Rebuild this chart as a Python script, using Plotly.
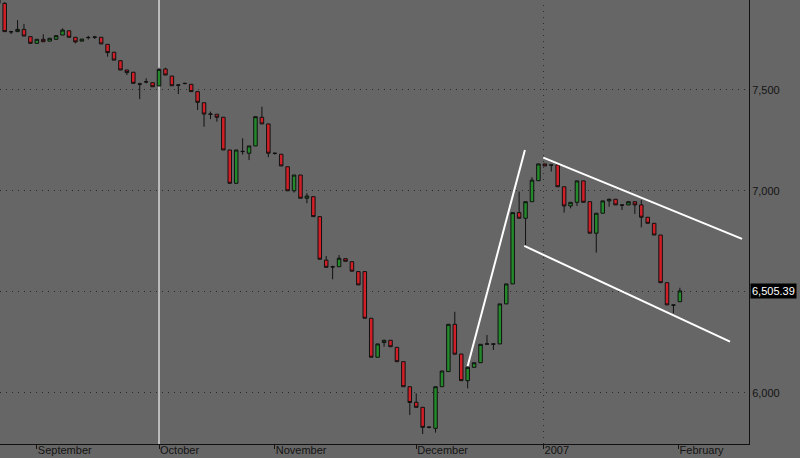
import plotly.graph_objects as go

# Trading-day index (one candle per session), Sep 2006 - Feb 2007
day_idx = list(range(-1, 106))

opens = [7990, 7929, 7789, 7789, 7800, 7764, 7731, 7751, 7742, 7751, 7772,
         7793, 7761, 7742, 7759, 7761, 7761, 7726, 7687, 7645, 7599,
         7588, 7530, 7541, 7536, 7520, 7604, 7569, 7525, 7533, 7528,
         7492, 7437, 7381, 7380, 7365, 7203, 7038, 7195, 7187, 7223,
         7365, 7332, 7187, 7182, 7120, 7001, 7079, 6964, 6972, 6873,
         6658, 6625, 6625, 6665, 6650, 6601, 6601, 6370, 6177, 6250,
         6261, 6226, 6155, 6031, 5954, 5929, 5830, 5825, 6031, 6106,
         6340, 6193, 6061, 6127, 6150, 6242, 6243, 6243, 6441, 6540,
         6893, 6865, 6947, 7051, 7134, 7129, 7129, 7021, 6926, 6944,
         7050, 6947, 6791, 6890, 6951, 6959, 6931, 6931, 6947, 6931,
         6870, 6840, 6782, 6546, 6436, 6452]
highs = [8000, 7935, 7793, 7846, 7827, 7764, 7751, 7776, 7756, 7769, 7805,
         7795, 7761, 7752, 7768, 7768, 7761, 7726, 7687, 7645, 7599,
         7588, 7536, 7558, 7536, 7610, 7610, 7569, 7528, 7536, 7528,
         7492, 7437, 7393, 7380, 7365, 7203, 7203, 7261, 7223, 7368,
         7417, 7332, 7190, 7182, 7120, 7079, 7079, 6989, 6972, 6873,
         6678, 6630, 6683, 6665, 6650, 6601, 6601, 6370, 6243, 6263,
         6261, 6226, 6155, 6031, 5998, 5929, 5833, 6031, 6109, 6340,
         6402, 6193, 6127, 6150, 6241, 6287, 6243, 6441, 6540, 6893,
         6997, 6947, 7068, 7134, 7134, 7130, 7129, 7021, 6944, 7050,
         7050, 6947, 6890, 6951, 6962, 6959, 6932, 6947, 6947, 6955,
         6870, 6840, 6782, 6546, 6437, 6521]
lows = [7929, 7789, 7777, 7789, 7767, 7731, 7731, 7739, 7742, 7748, 7772,
        7761, 7731, 7742, 7750, 7753, 7728, 7665, 7648, 7599, 7574,
        7533, 7455, 7533, 7516, 7520, 7574, 7521, 7480, 7528, 7492,
        7401, 7318, 7356, 7343, 7203, 7038, 7038, 7180, 7153, 7223,
        7332, 7167, 7180, 7124, 7001, 6992, 6964, 6939, 6873, 6662,
        6622, 6563, 6625, 6652, 6603, 6535, 6370, 6177, 6177, 6229,
        6229, 6155, 6031, 5891, 5929, 5797, 5825, 5804, 6031, 6106,
        6192, 6061, 6023, 6127, 6150, 6242, 6213, 6243, 6441, 6540,
        6865, 6729, 6947, 7051, 7124, 7096, 7021, 6893, 6914, 6926,
        6944, 6791, 6695, 6890, 6922, 6931, 6906, 6931, 6886, 6820,
        6840, 6782, 6546, 6436, 6395, 6452]
closes = [7929, 7789, 7788, 7800, 7767, 7731, 7751, 7739, 7756, 7769, 7797,
          7761, 7738, 7752, 7760, 7762, 7728, 7685, 7648, 7599, 7586,
          7533, 7529, 7540, 7516, 7602, 7574, 7521, 7524, 7532, 7492,
          7439, 7381, 7380, 7365, 7203, 7038, 7203, 7196, 7223, 7368,
          7332, 7187, 7186, 7124, 7001, 7079, 6964, 6975, 6873, 6662,
          6622, 6624, 6667, 6652, 6603, 6535, 6370, 6177, 6243, 6261,
          6229, 6155, 6031, 5953, 5929, 5830, 5831, 6031, 6109, 6340,
          6192, 6061, 6127, 6150, 6241, 6243, 6242, 6441, 6540, 6893,
          6865, 6947, 7054, 7134, 7124, 7128, 7021, 6926, 6944, 7050,
          6944, 6791, 6890, 6951, 6959, 6931, 6930, 6947, 6931, 6870,
          6840, 6782, 6546, 6436, 6435, 6505.39]

# Month boundaries on the time axis (trading-day index) and their labels
month_pos = [5, 24, 42, 64, 83.8, 104.8]
month_labels = ["September", "October", "November", "December", "2007", "February"]

# Price axis (6,500 sits under the last-price marker)
price_ticks = [6000, 6500, 7000, 7500]
price_labels = ["6,000", "", "7,000", "7,500"]
last_price = 6505.39

# Hand-drawn trendlines (index, price)
steep_x = [72, 80.9]
steep_y = [6134, 7203]
upper_x = [83.76, 114.67]
upper_y = [7165, 6763]
lower_x = [80.8, 112.8]
lower_y = [6728, 6254]

BG = "#666666"
FONT = "Liberation Sans, Arial, sans-serif"

fig = go.Figure()
fig.add_trace(go.Candlestick(
    x=day_idx, open=opens, high=highs, low=lows, close=closes,
    increasing=dict(fillcolor="#23892b", line=dict(color="#111111", width=1)),
    decreasing=dict(fillcolor="#d21f27", line=dict(color="#111111", width=1)),
    showlegend=False, hoverinfo="skip",
))
for xs, ys in [(steep_x, steep_y), (upper_x, upper_y), (lower_x, lower_y)]:
    fig.add_trace(go.Scatter(x=xs, y=ys, mode="lines",
                             line=dict(color="white", width=2),
                             showlegend=False, hoverinfo="skip"))

# October marker line (solid) and year boundary (dotted)
fig.add_shape(type="line", xref="x", yref="paper", x0=month_pos[1], x1=month_pos[1],
              y0=0, y1=1, line=dict(color="#d8d8d8", width=1.5), layer="below")
fig.add_shape(type="line", xref="x", yref="paper", x0=month_pos[4], x1=month_pos[4],
              y0=0, y1=1, line=dict(color="#2a2a2a", width=1, dash="1px,5px"), layer="below")

fig.add_annotation(xref="paper", yref="y", x=1, y=last_price, xanchor="left",
                   yanchor="middle", xshift=1, text=f"{last_price:,.2f}",
                   showarrow=False, bgcolor="black", borderpad=1,
                   font=dict(family=FONT, size=11, color="white"))

fig.update_layout(
    width=800, height=458,
    margin=dict(l=0, r=51, t=0, b=14, autoexpand=False),
    paper_bgcolor=BG, plot_bgcolor=BG,
    font=dict(family=FONT, size=11, color="#141414"),
    showlegend=False,
    boxgap=0.22,
    xaxis=dict(
        range=[-0.73, 115.75], rangeslider=dict(visible=False),
        automargin=False,
        tickvals=month_pos, ticktext=month_labels,
        ticks="outside", ticklen=4, tickcolor="#141414", tickwidth=1,
        ticklabelposition="outside right", ticklabelstandoff=-4,
        showgrid=False, zeroline=False,
        showline=True, linecolor="#111111", linewidth=1,
        tickfont=dict(family=FONT, size=11, color="#141414"),
    ),
    yaxis=dict(
        side="right", range=[5747.5, 7945.5], automargin=False,
        tickvals=price_ticks, ticktext=price_labels,
        ticks="", showgrid=True, gridcolor="#2a2a2a", gridwidth=1,
        griddash="1px,5px", zeroline=False,
        showline=True, linecolor="#111111", linewidth=1,
        tickfont=dict(family=FONT, size=11, color="#141414"),
    ),
)

fig.write_html("out.html", config={"displayModeBar": False},
               post_script="document.body.style.margin='0';document.body.style.overflow='hidden';")
